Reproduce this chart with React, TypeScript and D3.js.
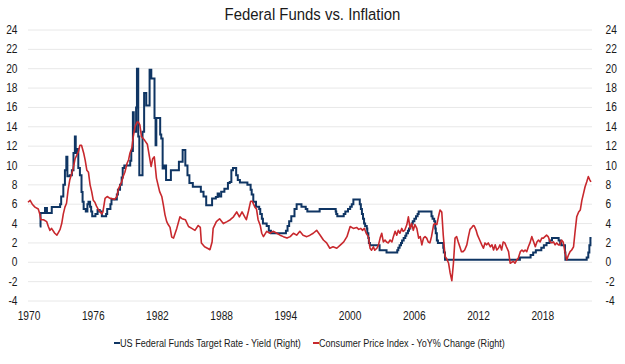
import React, { useLayoutEffect, useRef, useState } from "react";
import * as d3 from "d3";

const title = "Federal Funds vs. Inflation";
const xLabels = ["1970", "1976", "1982", "1988", "1994", "2000", "2006", "2012", "2018"];
const yTicks = [-4, -2, 0, 2, 4, 6, 8, 10, 12, 14, 16, 18, 20, 22, 24];
const seriesNames = [
  "US Federal Funds Target Rate - Yield (Right)",
  "Consumer Price Index - YoY% Change (Right)",
];

// [decimal year, value] — value in effect from that date (step)
const fedFunds: [number, number][] = [
  [1971.1, 3.7], [1971.17, 5.1], [1971.59, 5.6], [1971.77, 5.1], [1972.22, 5.7], [1973.0, 6.0],
  [1973.1, 6.8], [1973.3, 8.0], [1973.45, 9.5], [1973.58, 10.9], [1973.68, 8.9], [1973.9, 9.0],
  [1974.1, 9.5], [1974.25, 11.3], [1974.38, 13.0], [1974.46, 11.3], [1974.55, 11.7], [1974.7, 9.75],
  [1974.85, 9.0], [1975.0, 7.25], [1975.1, 6.25], [1975.2, 5.5], [1975.4, 5.25], [1975.55, 6.0],
  [1975.65, 6.25], [1975.8, 5.75], [1975.9, 5.25], [1976.0, 4.75], [1976.3, 5.0], [1976.5, 5.4],
  [1976.7, 5.25], [1976.9, 4.75], [1977.3, 5.0], [1977.4, 5.5], [1977.7, 6.0], [1977.8, 6.5],
  [1978.3, 7.0], [1978.4, 7.5], [1978.6, 8.0], [1978.75, 8.75], [1978.85, 9.75], [1979.0, 10.0],
  [1979.55, 10.5], [1979.65, 11.5], [1979.8, 15.5], [1979.88, 13.5], [1980.1, 16.0], [1980.18, 20.0],
  [1980.3, 13.0], [1980.4, 9.0], [1980.7, 13.5], [1980.85, 17.5], [1981.05, 16.2], [1981.36, 19.9],
  [1981.52, 19.0], [1981.82, 14.9], [1981.92, 12.1], [1981.99, 14.9], [1982.35, 13.2], [1982.45, 12.8],
  [1982.58, 9.7], [1982.72, 10.0], [1982.9, 8.5], [1983.35, 9.5], [1984.1, 10.4], [1984.45, 11.6],
  [1984.7, 10.0], [1984.9, 9.0], [1985.08, 8.2], [1985.4, 7.8], [1986.15, 7.3], [1986.4, 6.8],
  [1986.65, 5.9], [1987.2, 6.6], [1987.55, 6.75], [1987.72, 7.1], [1987.85, 6.8], [1988.05, 7.3],
  [1988.35, 7.6], [1988.68, 8.2], [1988.85, 8.3], [1989.0, 9.5], [1989.15, 9.75], [1989.45, 9.0],
  [1989.6, 8.5], [1989.8, 8.25], [1990.5, 8.0], [1990.8, 7.5], [1990.9, 7.0], [1991.05, 6.25],
  [1991.3, 5.75], [1991.6, 5.5], [1991.7, 5.0], [1991.85, 4.5], [1991.95, 4.0], [1992.3, 3.75],
  [1992.5, 3.25], [1992.7, 3.0], [1994.1, 3.25], [1994.25, 3.75], [1994.4, 4.25], [1994.6, 4.75],
  [1994.9, 5.5], [1995.1, 6.0], [1995.55, 5.75], [1995.95, 5.5], [1996.1, 5.25], [1997.25, 5.5],
  [1998.75, 5.25], [1998.8, 5.0], [1998.9, 4.75], [1999.5, 5.0], [1999.65, 5.25], [1999.9, 5.5],
  [2000.1, 5.75], [2000.25, 6.0], [2000.4, 6.5], [2001.0, 6.0], [2001.1, 5.5], [2001.2, 5.0],
  [2001.3, 4.5], [2001.4, 4.0], [2001.5, 3.75], [2001.65, 3.5], [2001.7, 3.0], [2001.8, 2.5],
  [2001.85, 2.0], [2001.95, 1.75], [2002.85, 1.25], [2003.5, 1.0], [2004.5, 1.25], [2004.6, 1.5],
  [2004.72, 1.75], [2004.85, 2.0], [2004.95, 2.25], [2005.1, 2.5], [2005.25, 2.75], [2005.35, 3.0],
  [2005.5, 3.25], [2005.6, 3.5], [2005.72, 3.75], [2005.85, 4.0], [2005.95, 4.25], [2006.1, 4.5],
  [2006.25, 4.75], [2006.4, 5.0], [2006.5, 5.25], [2007.7, 4.75], [2007.8, 4.5], [2007.95, 4.25],
  [2008.05, 3.5], [2008.1, 3.0], [2008.2, 2.25], [2008.3, 2.0], [2008.8, 1.5], [2008.85, 1.0],
  [2008.96, 0.25], [2015.96, 0.5], [2016.96, 0.75], [2017.2, 1.0], [2017.45, 1.25], [2017.96, 1.5],
  [2018.2, 1.75], [2018.45, 2.0], [2018.73, 2.25], [2018.96, 2.5], [2019.58, 2.25], [2019.72, 2.0],
  [2019.83, 1.75], [2020.17, 1.0], [2020.21, 0.25], [2022.2, 0.5], [2022.35, 1.0], [2022.45, 1.75],
  [2022.55, 2.5], [2022.65, 2.5],
];

const cpi: [number, number][] = [
  [1970.0, 6.2], [1970.2, 6.4], [1970.4, 6.0], [1970.65, 5.7], [1970.96, 5.5], [1971.1, 5.0],
  [1971.2, 4.4], [1971.45, 4.4], [1971.75, 4.2], [1971.9, 3.7], [1972.05, 3.3], [1972.2, 3.5],
  [1972.5, 3.0], [1972.7, 2.8], [1972.85, 3.1], [1973.0, 3.4], [1973.15, 4.0], [1973.3, 5.0],
  [1973.45, 5.7], [1973.6, 6.1], [1973.75, 7.5], [1973.9, 8.5], [1974.2, 9.6], [1974.4, 10.7],
  [1974.7, 11.4], [1974.85, 12.1], [1975.0, 12.1], [1975.2, 11.3], [1975.35, 10.5], [1975.5, 9.5],
  [1975.65, 9.3], [1975.8, 8.0], [1975.95, 7.3], [1976.1, 6.4], [1976.25, 6.2], [1976.4, 5.8],
  [1976.6, 5.4], [1976.9, 5.0], [1977.0, 5.2], [1977.2, 6.6], [1977.4, 6.8], [1977.66, 6.6],
  [1977.8, 6.6], [1978.1, 6.5], [1978.3, 6.8], [1978.45, 7.6], [1978.75, 8.3], [1978.9, 8.9],
  [1979.05, 9.3], [1979.25, 10.2], [1979.4, 10.6], [1979.53, 11.3], [1979.7, 11.8], [1979.84, 13.0],
  [1980.0, 14.0], [1980.2, 14.5], [1980.3, 14.5], [1980.45, 14.2], [1980.6, 13.0], [1980.9, 12.6],
  [1981.15, 12.2], [1981.35, 10.9], [1981.5, 9.9], [1981.65, 10.7], [1981.8, 10.9], [1982.0, 8.7],
  [1982.3, 7.3], [1982.5, 6.8], [1982.65, 5.9], [1982.8, 4.9], [1982.96, 4.2], [1983.1, 3.9],
  [1983.27, 3.6], [1983.43, 2.6], [1983.6, 2.5], [1983.9, 3.5], [1984.2, 4.7], [1984.4, 4.5],
  [1984.7, 4.4], [1985.0, 3.7], [1985.3, 3.5], [1985.6, 3.3], [1985.9, 3.8], [1986.1, 3.6],
  [1986.2, 2.0], [1986.5, 1.6], [1986.85, 1.4], [1987.0, 1.3], [1987.2, 2.1], [1987.3, 3.5],
  [1987.6, 4.2], [1987.9, 4.5], [1988.25, 4.0], [1988.6, 4.2], [1988.9, 4.4], [1989.2, 4.7],
  [1989.5, 5.2], [1989.75, 4.7], [1990.0, 5.2], [1990.3, 4.6], [1990.4, 4.4], [1990.6, 5.3],
  [1990.8, 6.3], [1990.96, 6.3], [1991.2, 5.7], [1991.35, 5.5], [1991.5, 4.4], [1991.7, 3.8],
  [1991.84, 3.0], [1992.0, 2.65], [1992.3, 3.2], [1992.6, 3.0], [1992.9, 3.2], [1993.25, 3.0],
  [1993.55, 2.8], [1993.86, 2.65], [1994.2, 2.5], [1994.5, 2.65], [1994.8, 3.0], [1995.1, 2.8],
  [1995.4, 3.2], [1995.7, 2.8], [1996.05, 2.65], [1996.35, 2.8], [1996.65, 3.0], [1996.97, 3.3],
  [1997.3, 2.8], [1997.6, 2.3], [1997.9, 2.0], [1998.2, 1.45], [1998.5, 1.6], [1998.85, 1.45],
  [1999.2, 1.8], [1999.5, 2.1], [1999.8, 2.65], [2000.1, 3.7], [2000.4, 3.5], [2000.7, 3.6],
  [2000.9, 3.4], [2001.1, 3.5], [2001.25, 3.3], [2001.43, 3.5], [2001.6, 3.0], [2001.8, 2.65],
  [2001.96, 1.45], [2002.1, 1.25], [2002.27, 1.6], [2002.4, 1.25], [2002.6, 1.45], [2002.75, 1.8],
  [2002.9, 2.5], [2003.05, 3.0], [2003.2, 2.1], [2003.36, 2.3], [2003.5, 2.1], [2003.67, 2.0],
  [2003.83, 2.3], [2004.0, 2.1], [2004.14, 2.65], [2004.3, 3.2], [2004.45, 2.8], [2004.6, 3.3],
  [2004.75, 3.0], [2004.92, 3.5], [2005.05, 3.2], [2005.2, 3.3], [2005.4, 3.9], [2005.54, 4.7],
  [2005.7, 3.5], [2005.85, 4.0], [2006.0, 3.3], [2006.15, 3.9], [2006.33, 3.5], [2006.5, 2.5],
  [2006.65, 2.65], [2006.8, 1.8], [2006.95, 2.5], [2007.1, 2.65], [2007.25, 2.5], [2007.4, 2.1],
  [2007.55, 2.0], [2007.7, 2.65], [2007.9, 3.9], [2008.0, 4.0], [2008.2, 3.9], [2008.35, 4.7],
  [2008.5, 5.4], [2008.66, 5.2], [2008.8, 2.8], [2008.97, 0.6], [2009.1, 0.4], [2009.3, -0.1],
  [2009.44, -1.1], [2009.6, -1.9], [2009.75, -0.1], [2009.9, 2.5], [2010.05, 2.65], [2010.2, 2.1],
  [2010.35, 1.6], [2010.5, 1.1], [2010.65, 1.1], [2010.8, 1.27], [2011.0, 1.8], [2011.15, 2.65],
  [2011.3, 3.4], [2011.46, 3.6], [2011.6, 3.8], [2011.7, 3.75], [2011.87, 3.3], [2012.0, 2.8],
  [2012.2, 2.3], [2012.4, 1.8], [2012.55, 1.45], [2012.7, 2.0], [2012.85, 1.8], [2013.0, 2.0],
  [2013.2, 1.6], [2013.35, 1.8], [2013.5, 1.27], [2013.65, 1.8], [2013.8, 1.27], [2013.95, 1.45],
  [2014.1, 1.8], [2014.25, 1.27], [2014.4, 2.1], [2014.55, 2.0], [2014.7, 1.6], [2014.9, 1.1],
  [2015.05, -0.1], [2015.2, 0.0], [2015.35, 0.1], [2015.5, -0.1], [2015.67, 0.25], [2015.8, 0.4],
  [2016.0, 1.1], [2016.15, 1.27], [2016.3, 1.1], [2016.45, 1.27], [2016.6, 1.1], [2016.75, 1.6],
  [2016.9, 2.0], [2017.07, 2.65], [2017.25, 2.1], [2017.4, 1.6], [2017.55, 2.1], [2017.7, 2.3],
  [2017.85, 2.1], [2018.0, 2.5], [2018.15, 2.5], [2018.3, 2.65], [2018.45, 2.8], [2018.6, 2.65],
  [2018.8, 2.1], [2018.95, 2.0], [2019.1, 2.1], [2019.25, 1.8], [2019.4, 2.0], [2019.55, 1.8],
  [2019.7, 1.8], [2019.85, 2.3], [2020.0, 2.1], [2020.2, 0.9], [2020.33, 0.25], [2020.5, 0.75],
  [2020.65, 1.1], [2020.8, 1.27], [2020.97, 1.6], [2021.1, 3.0], [2021.27, 4.7], [2021.45, 5.2],
  [2021.6, 5.4], [2021.75, 6.4], [2021.9, 7.1], [2022.05, 7.8], [2022.2, 8.3], [2022.35, 8.85],
  [2022.5, 8.5], [2022.6, 8.3],
];

const W = 625;
const H = 364;
const BLUE = "#0f3563";
const RED = "#c8282d";
const FONT = "'Liberation Sans', Arial, sans-serif";

type FitProps = {
  x: number;
  y: number;
  width: number;
  anchor: "start" | "middle" | "end";
  size: number;
  family: string;
  children: string;
};

function FitText({ x, y, width, anchor, size, family, children }: FitProps) {
  const ref = useRef<SVGTextElement>(null);
  const [s, setS] = useState(1);
  useLayoutEffect(() => {
    if (ref.current) {
      const len = ref.current.getComputedTextLength();
      if (len > 0) setS(width / len);
    }
  }, [width, children]);
  return (
    <text
      ref={ref}
      transform={`translate(${x},${y}) scale(${s},1)`}
      textAnchor={anchor}
      fontFamily={family}
      fontSize={size}
      fill="#1a1a1a"
    >
      {children}
    </text>
  );
}

export default function App() {
  const x = d3.scaleLinear().domain([1970, 2022.65]).range([28, 591.5]);
  const y = d3.scaleLinear().domain([-4, 24]).range([301, 30]);

  const line = d3
    .line<[number, number]>()
    .x((d) => x(d[0]))
    .y((d) => y(d[1]));
  const stepLine = d3
    .line<[number, number]>()
    .x((d) => x(d[0]))
    .y((d) => y(d[1]))
    .curve(d3.curveStepAfter);

  return (
    <svg
      width={W}
      height={H}
      style={{ position: "absolute", left: 0, top: 0, background: "#fff" }}
    >
      <rect x={0} y={0} width={W} height={H} fill="#fff" />
      <FitText x={312.5} y={20} width={176} anchor="middle" size={16.5} family={FONT}>
        {title}
      </FitText>
      {yTicks.map((t) => (
        <line
          key={"g" + t}
          x1={28}
          x2={592}
          y1={y(t)}
          y2={y(t)}
          stroke="#e8e8e8"
          strokeWidth={1}
        />
      ))}
      {yTicks.map((t) => (
        <g key={"l" + t}>
          <text
            transform={`translate(17.5,${y(t) + 4}) scale(0.85,1)`}
            textAnchor="end"
            fontFamily={FONT}
            fontSize={12}
            fill="#1a1a1a"
          >
            {t}
          </text>
          <text
            transform={`translate(605.5,${y(t) + 4}) scale(0.85,1)`}
            textAnchor="start"
            fontFamily={FONT}
            fontSize={12}
            fill="#1a1a1a"
          >
            {t}
          </text>
        </g>
      ))}
      {xLabels.map((l) => (
        <text
          key={"x" + l}
          transform={`translate(${x(+l) + 1},${320}) scale(0.85,1)`}
          textAnchor="middle"
          fontFamily={FONT}
          fontSize={12}
          fill="#1a1a1a"
        >
          {l}
        </text>
      ))}
      <path d={stepLine(fedFunds) || ""} fill="none" stroke={BLUE} strokeWidth={2} />
      <path d={line(cpi) || ""} fill="none" stroke={RED} strokeWidth={1.6} strokeLinejoin="round" />
      <line x1={114} x2={120} y1={343} y2={343} stroke={BLUE} strokeWidth={2} />
      <FitText x={120} y={347} width={181} anchor="start" size={11.5} family={FONT}>
        {seriesNames[0]}
      </FitText>
      <line x1={313} x2={319} y1={343} y2={343} stroke={RED} strokeWidth={2} />
      <FitText x={319} y={347} width={186} anchor="start" size={11.5} family={FONT}>
        {seriesNames[1]}
      </FitText>
    </svg>
  );
}
